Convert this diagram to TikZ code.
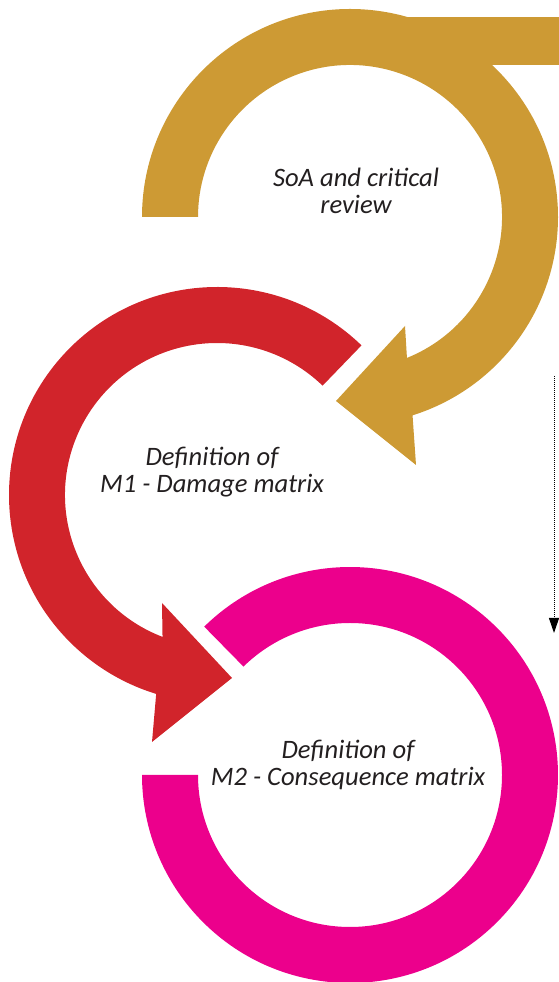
\documentclass[tikz,border=0pt]{standalone}
\usepackage{fontspec}
\setmainfont{Carlito}
\usetikzlibrary{arrows.meta}
\definecolor{soagold}{RGB}{205,154,52}
\definecolor{damred}{RGB}{209,36,43}
\definecolor{conspink}{RGB}{236,0,140}
\definecolor{txtgray}{RGB}{35,31,32}
\tikzset{steplabel/.style={align=center,text=txtgray,font=\fontsize{26.6}{27}\selectfont\itshape}}

\begin{document}
\begin{tikzpicture}[x=1pt,y=1pt]
          \useasboundingbox (0,0) rectangle (559,982);
          \coordinate (gc) at (350,765);
          \coordinate (rc) at (217,487);
          \coordinate (pc) at (350,207);
          % gold ring
          \fill[soagold] (350,917) rectangle (559,965);
          \fill[soagold] ([shift={(180:208)}]gc) arc[start angle=180,end angle=-72.5,radius=208]
            -- (416,517) -- (336,581) -- (405,656) -- ([shift={(-68:152)}]gc)
            arc[start angle=-68,end angle=180,radius=152] -- cycle;
          % red ring
          \fill[damred] ([shift={(46:208)}]rc) arc[start angle=46,end angle=253,radius=208]
            -- (152,240) -- (232,304) -- (162,379) -- ([shift={(249:152)}]rc)
            arc[start angle=249,end angle=46,radius=152] -- cycle;
          % pink ring
          \fill[conspink] ([shift={(134.5:208)}]pc) arc[start angle=134.5,end angle=-180,radius=208]
            -- ([shift={(180:152)}]pc) arc[start angle=-180,end angle=134.5,radius=152] -- cycle;
          \node[steplabel] (SoA) at (356,791) {SoA and critical\\review};
          \node[steplabel] (Dam) at (212,509.5) {Definition of\\M1 - Damage matrix};
          \node[steplabel] (Con) at (348,217.5) {Definition of\\M2 - Consequence matrix};
          \coordinate (Top) at (554,606);
          \coordinate (Bot) at (554,349);
          \draw[line width=1pt,dash pattern=on 1pt off 1pt,-{Triangle[length=15pt,width=10pt]}] (Top) -- (Bot);
        \end{tikzpicture}
\end{document}
